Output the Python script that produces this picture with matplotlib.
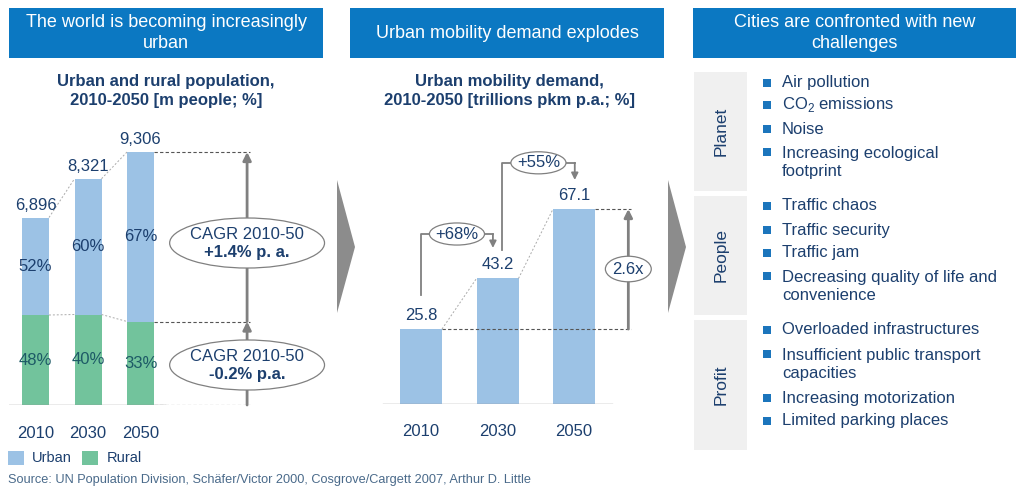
import matplotlib
matplotlib.use("Agg")
import matplotlib.pyplot as plt
from matplotlib.patches import Rectangle, Ellipse, Polygon

plt.rcParams['font.family'] = ['Liberation Sans', 'DejaVu Sans']

# data
years = ['2010', '2030', '2050']
urban = [3586, 4993, 6235]
rural = [3310, 3328, 3071]
total_labels = ['6,896', '8,321', '9,306']
urban_pct = ['52%', '60%', '67%']
rural_pct = ['48%', '40%', '33%']
cagr = [('CAGR 2010-50', '+1.4% p. a.'), ('CAGR 2010-50', '-0.2% p.a.')]
demand = [25.8, 43.2, 67.1]
growth = ['+68%', '+55%']

headers = ['The world is becoming increasingly\nurban',
           'Urban mobility demand explodes',
           'Cities are confronted with new\nchallenges']
groups = ['Planet', 'People', 'Profit']
challenges = [
    ['Air pollution', r'CO$_{\mathregular{2}}$ emissions', 'Noise',
     'Increasing ecological\nfootprint'],
    ['Traffic chaos', 'Traffic security', 'Traffic jam',
     'Decreasing quality of life and\nconvenience'],
    ['Overloaded infrastructures', 'Insufficient public transport\ncapacities',
     'Increasing motorization', 'Limited parking places'],
]
source = 'Source: UN Population Division, Schäfer/Victor 2000, Cosgrove/Cargett 2007, Arthur D. Little'

HEAD = '#0b78c2'
NAVY = '#1c3f6e'
LBLUE = '#9cc2e5'
GREEN = '#72c39c'
TEAL = '#1d5a66'
GREY = '#808080'
FS = 12

W, H = 1024, 488
fig = plt.figure(figsize=(W / 100, H / 100), dpi=100)
bg = fig.add_axes([0, 0, 1, 1])
bg.set_xlim(0, W)
bg.set_ylim(H, 0)
bg.axis('off')

# header boxes
for (x0, x1), txt in zip([(9, 323), (350, 664), (693, 1016)], headers):
    bg.add_patch(Rectangle((x0, 8), x1 - x0, 50, color=HEAD, lw=0))
    bg.text((x0 + x1) / 2, 33, txt, color='white', fontsize=13,
            ha='center', va='center', linespacing=1.3)

# subtitles
bg.text(166, 91, 'Urban and rural population,\n2010-2050 [m people; %]',
        color=NAVY, fontsize=12, fontweight='bold', ha='center', va='center',
        linespacing=1.35)
bg.text(509, 91, 'Urban mobility demand,\n2010-2050 [trillions pkm p.a.; %]',
        color=NAVY, fontsize=12, fontweight='bold', ha='center', va='center',
        linespacing=1.35)

# chevrons
for x0 in (337, 668):
    bg.add_patch(Polygon([(x0, 180), (x0 + 18, 247), (x0, 313)],
                         closed=True, color='#8c8c8c', lw=0))


def px_axes(x0, x1, ybase, ytop):
    return fig.add_axes([x0 / W, (H - ybase) / H, (x1 - x0) / W, (ybase - ytop) / H])


# ---- panel 1: urban / rural population
ax1 = px_axes(9, 262, 405, 140)
ax1.set_xlim(-0.505, 4.314)
ax1.set_ylim(0, 9747)
ax1.axis('off')
x = range(len(years))
bw = 0.514
totals = [u + r for u, r in zip(urban, rural)]
ax1.bar(x, rural, bw, color=GREEN, lw=0)
ax1.bar(x, urban, bw, bottom=rural, color=LBLUE, lw=0)
ax1.plot([-0.505, 2.47], [0, 0], color='#999999', lw=1)
for i in x:
    ax1.text(i, totals[i] + 180, total_labels[i], ha='center', va='bottom',
             color=NAVY, fontsize=FS)
    ax1.text(i, rural[i] + urban[i] / 2, urban_pct[i], ha='center', va='center',
             color=NAVY, fontsize=FS)
    ax1.text(i, rural[i] / 2, rural_pct[i], ha='center', va='center',
             color=TEAL, fontsize=FS)
for i in range(len(years) - 1):
    ax1.plot([i + bw / 2, i + 1 - bw / 2], [totals[i], totals[i + 1]],
             color='#aaaaaa', lw=0.7, ls=(0, (2, 2)))
    ax1.plot([i + bw / 2, i + 1 - bw / 2], [rural[i], rural[i + 1]],
             color='#aaaaaa', lw=0.7, ls=(0, (2, 2)))
xa = 4.03
for yv in (totals[2], rural[2], 0):
    ax1.plot([2 + bw / 2, 4.09], [yv, yv], color='#555555', lw=0.8, ls=(0, (3, 2)))
ax1.annotate('', xy=(xa, rural[2]), xytext=(xa, 0),
             arrowprops=dict(arrowstyle='-|>', color=GREY, lw=2, mutation_scale=12,
                             shrinkA=0, shrinkB=0))
ax1.annotate('', xy=(xa, totals[2]), xytext=(xa, rural[2]),
             arrowprops=dict(arrowstyle='-|>', color=GREY, lw=2, mutation_scale=12,
                             shrinkA=0, shrinkB=0))
for yc, (l1, l2) in zip((5958, 1471), cagr):
    ax1.add_patch(Ellipse((xa, yc), 2.95, 1840, facecolor='white',
                          edgecolor=GREY, lw=0.9, zorder=3, clip_on=False))
    ax1.text(xa, yc + 330, l1, ha='center', va='center', color=NAVY, fontsize=FS,
             zorder=4)
    ax1.text(xa, yc - 360, l2, ha='center', va='center', color=NAVY, fontsize=FS,
             fontweight='bold', zorder=4)
for i, yr in enumerate(years):
    bg.text(35.5 + 52.5 * i, 433, yr, ha='center', va='center', color=NAVY, fontsize=FS)

# legend
bg.add_patch(Rectangle((8, 451), 16, 14, color=LBLUE, lw=0))
bg.text(32, 458, 'Urban', va='center', color=NAVY, fontsize=10.5)
bg.add_patch(Rectangle((82, 451), 16, 14, color=GREEN, lw=0))
bg.text(107, 458, 'Rural', va='center', color=NAVY, fontsize=10.5)
bg.text(8, 480, source, va='center', color='#4a6a8a', fontsize=9.2)

# ---- panel 2: mobility demand
ax2 = px_axes(380, 660, 404, 140)
ax2.set_xlim(-0.536, 3.124)
ax2.set_ylim(0, 90.85)
ax2.axis('off')
bw2 = 0.549
ax2.bar(x, demand, bw2, color=LBLUE, lw=0)
ax2.plot([-0.5, 2.5], [0, 0], color='#999999', lw=1)
for i in x:
    ax2.text(i, demand[i] + 2.2, f'{demand[i]:.1f}', ha='center', va='bottom',
             color=NAVY, fontsize=FS)
for i in range(len(years) - 1):
    ax2.plot([i + bw2 / 2, i + 1 - bw2 / 2], [demand[i], demand[i + 1]],
             color='#aaaaaa', lw=0.7, ls=(0, (2, 2)))
xr = 2.71
for j, yv in ((0, demand[0]), (2, demand[2])):
    ax2.plot([j + bw2 / 2, 2.74], [yv, yv],
             color='#555555', lw=0.8, ls=(0, (3, 2)))
ax2.annotate('', xy=(xr, demand[2]), xytext=(xr, demand[0]),
             arrowprops=dict(arrowstyle='-|>', color=GREY, lw=2, mutation_scale=12,
                             shrinkA=0, shrinkB=0))
ym = (demand[0] + demand[2]) / 2
ax2.add_patch(Ellipse((xr, ym), 0.6, 8.8, facecolor='white', edgecolor=GREY,
                      lw=0.9, zorder=3))
ax2.text(xr, ym, '2.6x', ha='center', va='center', color=NAVY, fontsize=FS, zorder=4)

# growth brackets
brackets = [(0.0, 0.94, demand[0] + 11.7, 58.5, demand[1] + 10.5),
            (1.06, 2.01, demand[1] + 9.8, 83.0, demand[2] + 10.0)]
for (xs, xe, y0, yt, ye), g in zip(brackets, growth):
    ax2.plot([xs, xs, xe], [y0, yt, yt], color=GREY, lw=1.3)
    ax2.annotate('', xy=(xe, ye), xytext=(xe, yt),
                 arrowprops=dict(arrowstyle='-|>', color=GREY, lw=1.3,
                                 mutation_scale=10, shrinkA=0, shrinkB=0))
    xc = (xs + xe) / 2
    ax2.add_patch(Ellipse((xc, yt), 0.72, 7.6, facecolor='white', edgecolor=GREY,
                          lw=0.9, zorder=3))
    ax2.text(xc, yt, g, ha='center', va='center', color=NAVY, fontsize=FS, zorder=4)
for i, yr in enumerate(years):
    bg.text(421 + 76.5 * i, 432, yr, ha='center', va='center', color=NAVY, fontsize=FS)

# ---- panel 3: challenges
boxes = [(72, 191), (196, 315), (320, 450)]
rows = [[83, 105, 129, 152], [206, 230, 253, 276], [330, 354, 398, 421]]
for (y0, y1), grp, items, ys in zip(boxes, groups, challenges, rows):
    bg.add_patch(Rectangle((694, y0), 53, y1 - y0, color='#f0f0f0', lw=0))
    bg.text(721, (y0 + y1) / 2, grp, rotation=90, ha='center', va='center',
            color=NAVY, fontsize=12.5)
    for txt, yy in zip(items, ys):
        bg.add_patch(Rectangle((763, yy - 4), 8, 8, color='#1b75bc', lw=0))
        nl = txt.count('\n')
        bg.text(782, yy + 10.5 * nl, txt, ha='left', va='center', color=NAVY,
                fontsize=12, linespacing=1.2)

fig.savefig('out.png', dpi=100)
